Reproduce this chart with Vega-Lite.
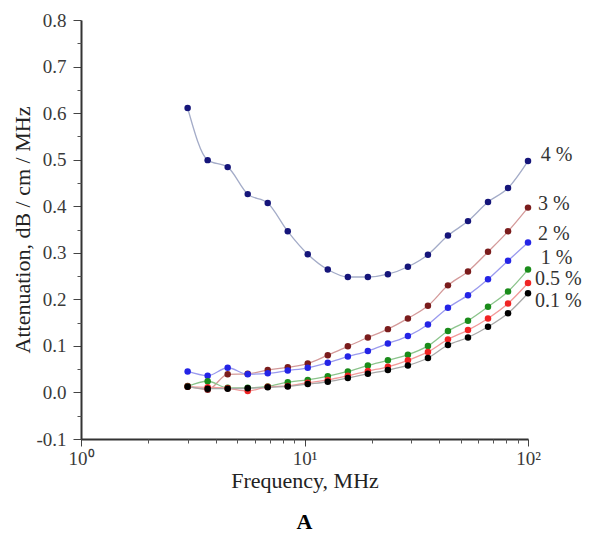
{
  "$schema": "https://vega.github.io/schema/vega-lite/v6.json",
  "width": 447,
  "height": 419,
  "autosize": {"type": "none"},
  "padding": {"left": 81, "top": 20, "right": 64, "bottom": 96},
  "background": "white",
  "config": {"view": {"stroke": null}, "font": "Liberation Serif"},
  "title": {"text": "A", "orient": "bottom", "anchor": "middle", "fontSize": 22, "fontWeight": "bold", "font": "Liberation Serif", "color": "black", "offset": 21},
  "datasets": {
    "pts": [
      {"series": "4 %", "freq": 3, "att": 0.611}, {"series": "4 %", "freq": 3.687, "att": 0.499}, {"series": "4 %", "freq": 4.532, "att": 0.484}, {"series": "4 %", "freq": 5.571, "att": 0.426}, {"series": "4 %", "freq": 6.847, "att": 0.407}, {"series": "4 %", "freq": 8.416, "att": 0.346}, {"series": "4 %", "freq": 10.34, "att": 0.297}, {"series": "4 %", "freq": 12.71, "att": 0.264}, {"series": "4 %", "freq": 15.63, "att": 0.248}, {"series": "4 %", "freq": 19.21, "att": 0.248}, {"series": "4 %", "freq": 23.61, "att": 0.254}, {"series": "4 %", "freq": 29.02, "att": 0.27}, {"series": "4 %", "freq": 35.67, "att": 0.296}, {"series": "4 %", "freq": 43.84, "att": 0.337}, {"series": "4 %", "freq": 53.89, "att": 0.368}, {"series": "4 %", "freq": 66.23, "att": 0.409}, {"series": "4 %", "freq": 81.41, "att": 0.439}, {"series": "4 %", "freq": 100, "att": 0.497},
      {"series": "3 %", "freq": 3, "att": 0.014}, {"series": "3 %", "freq": 3.687, "att": 0.006}, {"series": "3 %", "freq": 4.532, "att": 0.039}, {"series": "3 %", "freq": 5.571, "att": 0.04}, {"series": "3 %", "freq": 6.847, "att": 0.048}, {"series": "3 %", "freq": 8.416, "att": 0.054}, {"series": "3 %", "freq": 10.34, "att": 0.062}, {"series": "3 %", "freq": 12.71, "att": 0.08}, {"series": "3 %", "freq": 15.63, "att": 0.099}, {"series": "3 %", "freq": 19.21, "att": 0.118}, {"series": "3 %", "freq": 23.61, "att": 0.136}, {"series": "3 %", "freq": 29.02, "att": 0.159}, {"series": "3 %", "freq": 35.67, "att": 0.186}, {"series": "3 %", "freq": 43.84, "att": 0.23}, {"series": "3 %", "freq": 53.89, "att": 0.26}, {"series": "3 %", "freq": 66.23, "att": 0.302}, {"series": "3 %", "freq": 81.41, "att": 0.346}, {"series": "3 %", "freq": 100, "att": 0.397},
      {"series": "2 %", "freq": 3, "att": 0.045}, {"series": "2 %", "freq": 3.687, "att": 0.036}, {"series": "2 %", "freq": 4.532, "att": 0.053}, {"series": "2 %", "freq": 5.571, "att": 0.039}, {"series": "2 %", "freq": 6.847, "att": 0.041}, {"series": "2 %", "freq": 8.416, "att": 0.047}, {"series": "2 %", "freq": 10.34, "att": 0.053}, {"series": "2 %", "freq": 12.71, "att": 0.064}, {"series": "2 %", "freq": 15.63, "att": 0.077}, {"series": "2 %", "freq": 19.21, "att": 0.089}, {"series": "2 %", "freq": 23.61, "att": 0.105}, {"series": "2 %", "freq": 29.02, "att": 0.121}, {"series": "2 %", "freq": 35.67, "att": 0.146}, {"series": "2 %", "freq": 43.84, "att": 0.182}, {"series": "2 %", "freq": 53.89, "att": 0.209}, {"series": "2 %", "freq": 66.23, "att": 0.243}, {"series": "2 %", "freq": 81.41, "att": 0.283}, {"series": "2 %", "freq": 100, "att": 0.322},
      {"series": "1 %", "freq": 3, "att": 0.013}, {"series": "1 %", "freq": 3.687, "att": 0.024}, {"series": "1 %", "freq": 4.532, "att": 0.01}, {"series": "1 %", "freq": 5.571, "att": 0.01}, {"series": "1 %", "freq": 6.847, "att": 0.013}, {"series": "1 %", "freq": 8.416, "att": 0.022}, {"series": "1 %", "freq": 10.34, "att": 0.027}, {"series": "1 %", "freq": 12.71, "att": 0.035}, {"series": "1 %", "freq": 15.63, "att": 0.045}, {"series": "1 %", "freq": 19.21, "att": 0.058}, {"series": "1 %", "freq": 23.61, "att": 0.069}, {"series": "1 %", "freq": 29.02, "att": 0.081}, {"series": "1 %", "freq": 35.67, "att": 0.1}, {"series": "1 %", "freq": 43.84, "att": 0.132}, {"series": "1 %", "freq": 53.89, "att": 0.154}, {"series": "1 %", "freq": 66.23, "att": 0.184}, {"series": "1 %", "freq": 81.41, "att": 0.217}, {"series": "1 %", "freq": 100, "att": 0.264},
      {"series": "0.5 %", "freq": 3, "att": 0.012}, {"series": "0.5 %", "freq": 3.687, "att": 0.011}, {"series": "0.5 %", "freq": 4.532, "att": 0.009}, {"series": "0.5 %", "freq": 5.571, "att": 0.003}, {"series": "0.5 %", "freq": 6.847, "att": 0.012}, {"series": "0.5 %", "freq": 8.416, "att": 0.014}, {"series": "0.5 %", "freq": 10.34, "att": 0.021}, {"series": "0.5 %", "freq": 12.71, "att": 0.027}, {"series": "0.5 %", "freq": 15.63, "att": 0.036}, {"series": "0.5 %", "freq": 19.21, "att": 0.046}, {"series": "0.5 %", "freq": 23.61, "att": 0.055}, {"series": "0.5 %", "freq": 29.02, "att": 0.069}, {"series": "0.5 %", "freq": 35.67, "att": 0.087}, {"series": "0.5 %", "freq": 43.84, "att": 0.114}, {"series": "0.5 %", "freq": 53.89, "att": 0.134}, {"series": "0.5 %", "freq": 66.23, "att": 0.159}, {"series": "0.5 %", "freq": 81.41, "att": 0.191}, {"series": "0.5 %", "freq": 100, "att": 0.235},
      {"series": "0.1 %", "freq": 3, "att": 0.012}, {"series": "0.1 %", "freq": 3.687, "att": 0.008}, {"series": "0.1 %", "freq": 4.532, "att": 0.008}, {"series": "0.1 %", "freq": 5.571, "att": 0.009}, {"series": "0.1 %", "freq": 6.847, "att": 0.011}, {"series": "0.1 %", "freq": 8.416, "att": 0.013}, {"series": "0.1 %", "freq": 10.34, "att": 0.018}, {"series": "0.1 %", "freq": 12.71, "att": 0.023}, {"series": "0.1 %", "freq": 15.63, "att": 0.031}, {"series": "0.1 %", "freq": 19.21, "att": 0.04}, {"series": "0.1 %", "freq": 23.61, "att": 0.048}, {"series": "0.1 %", "freq": 29.02, "att": 0.058}, {"series": "0.1 %", "freq": 35.67, "att": 0.074}, {"series": "0.1 %", "freq": 43.84, "att": 0.102}, {"series": "0.1 %", "freq": 53.89, "att": 0.118}, {"series": "0.1 %", "freq": 66.23, "att": 0.141}, {"series": "0.1 %", "freq": 81.41, "att": 0.17}, {"series": "0.1 %", "freq": 100, "att": 0.213}
    ],
    "labels": [
      {"series": "4 %", "lx": 114, "ly": 0.509},
      {"series": "3 %", "lx": 110.8, "ly": 0.404},
      {"series": "2 %", "lx": 110.8, "ly": 0.34},
      {"series": "1 %", "lx": 114, "ly": 0.289},
      {"series": "0.5 %", "lx": 107.5, "ly": 0.244},
      {"series": "0.1 %", "lx": 107.5, "ly": 0.197}
    ]
  },
  "resolve": {"axis": {"x": "independent", "y": "independent"}},
  "layer": [
    {
      "data": {"name": "pts"},
      "mark": {"type": "line", "interpolate": "monotone", "strokeWidth": 1.3},
      "encoding": {
        "x": {"field": "freq", "type": "quantitative",
          "scale": {"type": "log", "domain": [1, 100], "nice": false},
          "axis": {"values": [1, 10, 100], "labelExpr": "datum.value == 1 ? '10⁰' : datum.value == 10 ? '10¹' : '10²'",
            "labelFontSize": 19, "labelColor": "#3a3a3a", "labelFont": "Liberation Serif", "labelPadding": 3, "labelFlush": false,
            "tickSize": 7, "tickColor": "#444", "tickWidth": 1, "domainColor": "#333", "domainWidth": 2, "grid": false,
            "title": "Frequency, MHz", "titleFontSize": 22, "titleFontWeight": "normal", "titleColor": "#222", "titleFont": "Liberation Serif", "titlePadding": 2}},
        "y": {"field": "att", "type": "quantitative",
          "scale": {"domain": [-0.1, 0.8], "nice": false, "zero": false},
          "axis": {"values": [-0.1, 0, 0.1, 0.2, 0.3, 0.4, 0.5, 0.6, 0.7, 0.8], "labelExpr": "replace(format(datum.value, '.1f'), '−', '-')",
            "labelFontSize": 19, "labelColor": "#3a3a3a", "labelFont": "Liberation Serif", "labelPadding": 7, "labelFlush": false,
            "tickSize": 8, "tickColor": "#444", "domainColor": "#333", "domainWidth": 2, "grid": false,
            "title": "Attenuation, dB / cm / MHz", "titleFontSize": 22, "titleFontWeight": "normal", "titleColor": "#222", "titleFont": "Liberation Serif", "titlePadding": 1}},
        "stroke": {"field": "series", "type": "nominal",
          "scale": {"domain": ["4 %", "3 %", "2 %", "1 %", "0.5 %", "0.1 %"], "range": ["#a4acc8", "#d49a9a", "#9a9aee", "#8cc48c", "#f29a9a", "#a8a8a8"]},
          "legend": null},
        "detail": {"field": "series"}
      }
    },
    {
      "data": {"name": "pts"},
      "mark": {"type": "circle", "size": 42, "opacity": 1},
      "encoding": {
        "x": {"field": "freq", "type": "quantitative",
          "scale": {"type": "log", "domain": [1, 100], "nice": false},
          "axis": {"orient": "bottom", "values": [2, 3, 4, 5, 6, 7, 8, 9, 20, 30, 40, 50, 60, 70, 80, 90], "labels": false, "domain": false, "grid": false,
            "tickSize": 4, "tickColor": "#555", "title": null}},
        "y": {"field": "att", "type": "quantitative",
          "scale": {"domain": [-0.1, 0.8], "nice": false, "zero": false},
          "axis": {"orient": "left", "values": [-0.05, 0.05, 0.15, 0.25, 0.35, 0.45, 0.55, 0.65, 0.75], "labels": false, "domain": false, "grid": false,
            "tickSize": 4, "tickColor": "#555", "title": null}},
        "fill": {"field": "series", "type": "nominal",
          "scale": {"domain": ["4 %", "3 %", "2 %", "1 %", "0.5 %", "0.1 %"], "range": ["#15157a", "#7a1c1c", "#2424e6", "#1a8c1a", "#f02424", "#000000"]},
          "legend": null}
      }
    },
    {
      "data": {"name": "labels"},
      "mark": {"type": "text", "align": "left", "baseline": "middle", "fontSize": 20, "font": "Liberation Serif", "color": "#333"},
      "encoding": {
        "x": {"field": "lx", "type": "quantitative", "scale": {"type": "log", "domain": [1, 100], "nice": false}, "axis": null},
        "y": {"field": "ly", "type": "quantitative", "scale": {"domain": [-0.1, 0.8], "nice": false, "zero": false}, "axis": null},
        "text": {"field": "series"}
      }
    }
  ]
}
